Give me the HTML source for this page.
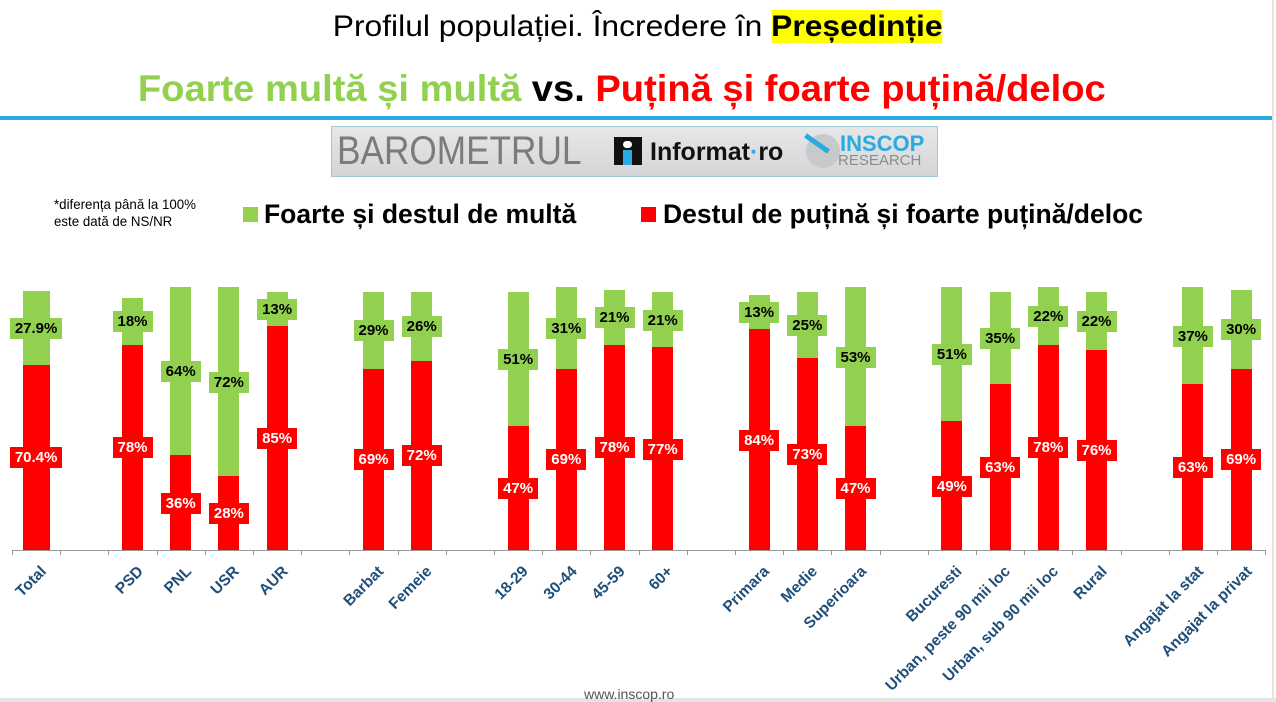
<!DOCTYPE html>
<html><head><meta charset="utf-8"><style>
body{margin:0;width:1276px;height:702px;background:#fff;position:relative;overflow:hidden;font-family:"Liberation Sans",sans-serif}
.abs{position:absolute}
.t1{left:0;width:1276px;top:10px;text-align:center;font-size:30px;color:#000}
.t1 span.in{display:inline-block;transform:scaleX(1.06)}
.t2{left:-16px;width:1276px;top:68px;text-align:center;font-size:37px;font-weight:bold}
.t2 span.in{display:inline-block;transform:scaleX(1.03)}
.bar{position:absolute}
.lbl{position:absolute;height:21px;line-height:21px;font-size:15px;font-weight:bold;text-align:center}
.cat{position:absolute;font-size:15.5px;font-weight:bold;color:#1f4e79;white-space:nowrap;transform-origin:100% 0;transform:rotate(-45deg)}
</style></head><body>
<div class="abs t1"><span class="in">Profilul populației. Încredere în <b style="background:#ffff00">Președinție</b></span></div>
<div class="abs t2"><span class="in"><span style="color:#92d050">Foarte multă și multă</span> <span style="color:#000">vs.</span> <span style="color:#ff0000">Puțină și foarte puțină/deloc</span></span></div>
<div class="abs" style="left:0;top:116px;width:1272px;height:4px;background:#29abe2"></div>
<div class="abs" style="left:1272px;top:0;width:2px;height:702px;background:#e4e4e4"></div>
<div class="abs" style="left:0;top:698px;width:1276px;height:4px;background:#e4e4e4"></div>
<div class="abs" style="left:331px;top:126px;width:605px;height:49px;border:1px solid #9fc8dc;background:linear-gradient(#e6e7e8,#d3d5d7)"></div>
<div class="abs" style="left:337px;top:129px;font-size:40px;color:#7a7b7d;transform:scaleX(0.88);transform-origin:0 0">BAROMETRUL</div>
<div class="abs" style="left:614px;top:137px;width:28px;height:28px;background:#111"></div>
<div class="abs" style="left:623px;top:141px;width:9px;height:7px;background:#fff;border-radius:4px"></div>
<div class="abs" style="left:623px;top:150px;width:9px;height:15px;background:#29abe2"></div>
<div class="abs" style="left:650px;top:138px;font-size:25px;font-weight:bold;color:#111">Informat<span style="color:#29abe2">·</span>ro</div>
<div class="abs" style="left:806px;top:134px;width:34px;height:34px;border-radius:50%;background:#c8c9cb"></div>
<div class="abs" style="left:803px;top:141px;width:28px;height:5px;background:#29abe2;transform:rotate(35deg)"></div>
<div class="abs" style="left:840px;top:131px;font-size:22px;color:#29abe2;font-weight:bold">INSCOP</div>
<div class="abs" style="left:838px;top:152px;font-size:15px;color:#8a8b8d">RESEARCH</div>
<div class="abs" style="left:54px;top:196px;font-size:14px;line-height:17px;color:#000;transform:scaleX(0.95);transform-origin:0 0">*diferența până la 100%<br>este dată de NS/NR</div>
<div class="abs" style="left:243px;top:207px;width:15px;height:15px;background:#92d050"></div>
<div class="abs" style="left:264px;top:199px;font-size:26.5px;font-weight:bold">Foarte și destul de multă</div>
<div class="abs" style="left:641px;top:207px;width:15px;height:15px;background:#ff0000"></div>
<div class="abs" style="left:663px;top:199px;font-size:26.5px;font-weight:bold">Destul de puțină și foarte puțină/deloc</div>
<div class="abs" style="left:12px;top:550px;width:1253px;height:1px;background:#999"></div>
<div class="abs" style="left:584px;top:686px;font-size:14px;color:#555">www.inscop.ro</div>
<div id="c"></div>
<script>
var d=[["Total",0,27.9,70.4,"27.9%","70.4%"],["PSD",2,18,78],["PNL",3,64,36],["USR",4,72,28],["AUR",5,13,85],["Barbat",7,29,69],["Femeie",8,26,72],["18-29",10,51,47],["30-44",11,31,69],["45-59",12,21,78],["60+",13,21,77],["Primara",15,13,84],["Medie",16,25,73],["Superioara",17,53,47],["Bucuresti",19,51,49],["Urban, peste 90 mii loc",20,35,63],["Urban, sub 90 mii loc",21,22,78],["Rural",22,22,76],["Angajat la stat",24,37,63],["Angajat la privat",25,30,69]];
var h="",sp=48.2,x0=12,base=550,k=2.63;
for(var i=0;i<=26;i++){h+='<div class="abs" style="left:'+(x0+i*sp)+'px;top:550px;width:1px;height:5px;background:#999"></div>';}
d.forEach(function(r){
var c=x0+(r[1]+0.5)*sp,w=r[0]=="Total"?27:21,rh=r[3]*k,gh=r[2]*k;
var gl=r[4]||(r[2]+"%"),rl=r[5]||(r[3]+"%");
h+='<div class="bar" style="left:'+(c-w/2)+'px;top:'+(base-rh)+'px;width:'+w+'px;height:'+rh+'px;background:#ff0000"></div>';
h+='<div class="bar" style="left:'+(c-w/2)+'px;top:'+(base-rh-gh)+'px;width:'+w+'px;height:'+gh+'px;background:#92d050"></div>';
var lw=gl.length>3?52:40;
h+='<div class="lbl" style="left:'+(c-lw/2)+'px;width:'+lw+'px;top:'+(base-rh-gh/2-10)+'px;background:#92d050;color:#000">'+gl+'</div>';
h+='<div class="lbl" style="left:'+(c-lw/2)+'px;width:'+lw+'px;top:'+(base-rh/2-10)+'px;background:#ff0000;color:#fff">'+rl+'</div>';
h+='<div class="cat" style="right:'+(1276-c-2)+'px;top:563px">'+r[0]+'</div>';
});
document.getElementById("c").innerHTML=h;
</script>
</body></html>
